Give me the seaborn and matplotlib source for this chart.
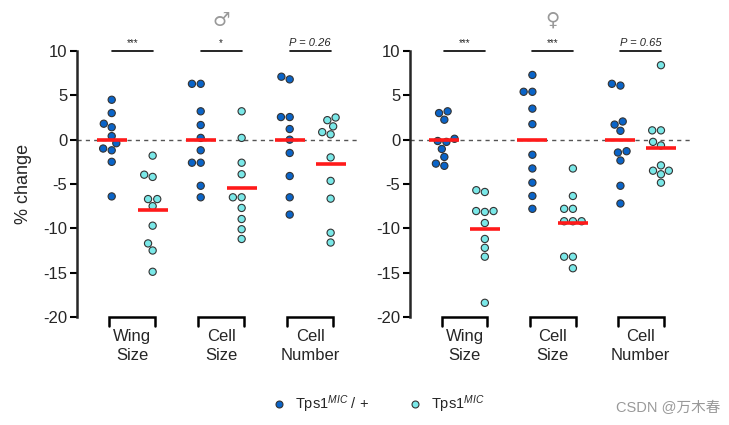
import numpy as np
import pandas as pd
import matplotlib
matplotlib.use("Agg")
import matplotlib.pyplot as plt
from matplotlib.lines import Line2D
import matplotlib.transforms as mtransforms
import seaborn as sns

sns.set_theme(style="ticks")
plt.rcParams['font.family'] = ['Liberation Sans', 'DejaVu Sans', 'Noto Sans CJK SC']
plt.rcParams['mathtext.fontset'] = 'custom'
plt.rcParams['mathtext.rm'] = 'Liberation Sans'
plt.rcParams['mathtext.it'] = 'Liberation Sans:italic'

# ---------------- data ----------------
measures = ["Wing\nSize", "Cell\nSize", "Cell\nNumber"]
genotypes = ["Tps1$^{MIC}$ / +", "Tps1$^{MIC}$"]
panels = ["♂", "♀"]

male_wing_het = [4.5, 3.0, 1.8, 1.4, 0.4, -0.4, -1.0, -1.2, -2.5, -6.4]
male_wing_mut = [-1.8, -4.2, -3.95, -6.7, -6.7, -7.5, -9.7, -11.7, -12.5, -14.9]
male_cellsize_het = [6.3, 6.3, 3.2, 1.65, 0.2, -1.2, -2.6, -2.6, -5.2, -6.5]
male_cellsize_mut = [3.2, 0.2, -2.6, -3.9, -6.5, -6.5, -7.7, -8.95, -10.1, -11.2]
male_cellnum_het = [6.8, 7.1, 2.55, 2.55, 1.2, 0.0, -1.5, -4.1, -6.5, -8.45]
male_cellnum_mut = [2.5, 2.2, 1.5, 0.6, 0.85, -2.0, -4.65, -6.65, -10.5, -11.6]

female_wing_het = [3.2, 3.0, 2.25, 0.1, -0.25, -0.15, -1.05, -1.95, -2.95, -2.7]
female_wing_mut = [-5.9, -5.7, -8.05, -8.15, -8.05, -9.4, -11.2, -12.2, -13.2, -18.4]
female_cellsize_het = [7.3, 5.4, 5.4, 3.5, 1.75, -1.7, -3.25, -4.85, -6.35, -7.8]
female_cellsize_mut = [-3.25, -6.35, -7.8, -7.8, -9.2, -9.2, -9.2, -13.2, -13.2, -14.5]
female_cellnum_het = [6.1, 6.3, 2.05, 1.7, 1.0, -1.3, -1.45, -2.35, -5.2, -7.2]
female_cellnum_mut = [8.4, 1.05, 1.05, -0.25, -0.65, -2.9, -3.5, -3.5, -3.9, -4.85]

male_sig = ["***", "*", "P = 0.26"]
female_sig = ["***", "***", "P = 0.65"]

panel_data = [
    [(male_wing_het, male_wing_mut), (male_cellsize_het, male_cellsize_mut), (male_cellnum_het, male_cellnum_mut)],
    [(female_wing_het, female_wing_mut), (female_cellsize_het, female_cellsize_mut), (female_cellnum_het, female_cellnum_mut)],
]
panel_sig = [male_sig, female_sig]

yticks = [10, 5, 0, -5, -10, -15, -20]

colors = ["#0a64c8", "#7ae8e8"]

# ---------------- figure ----------------
fig = plt.figure(figsize=(7.29, 4.25), dpi=100)
W, H = 729, 425
axes_px = [(77, 51, 283, 266), (410, 51, 280, 266)]
off = 0.23

for pi, (px, py, pw, ph) in enumerate(axes_px):
    ax = fig.add_axes([px / W, 1 - (py + ph) / H, pw / W, ph / H])
    rows = []
    for mi, (het, mut) in enumerate(panel_data[pi]):
        for v in het:
            rows.append((mi - off, genotypes[0], v))
        for v in mut:
            rows.append((mi + off, genotypes[1], v))
    df = pd.DataFrame(rows, columns=["xpos", "genotype", "value"])

    ax.axhline(0, color="#555555", ls=(0, (3, 3)), lw=1.0, zorder=0)
    sns.swarmplot(data=df, x="xpos", y="value", hue="genotype", native_scale=True,
                  hue_order=genotypes, palette=colors,
                  size=5.2, edgecolor="#333333", linewidth=0.8, ax=ax, legend=False,
                  zorder=3)

    means = df.groupby(["xpos"])["value"].mean()
    for xc, mv in means.items():
        ax.hlines(mv, xc - 0.17, xc + 0.17, color="#ff1a1a", lw=2.6, zorder=4)

    ax.set_ylim(-20, 10)
    ax.set_xlim(-off - 0.39, 2 + off + 0.33)
    ax.set_yticks(yticks)
    ax.set_yticklabels([str(t) for t in yticks])
    ax.tick_params(axis="y", labelsize=12, width=1.5, length=5, color="black", pad=2)
    ax.set_xticks([])
    ax.set_xlabel("")
    ax.set_ylabel("% change" if pi == 0 else "", fontsize=13, labelpad=8)
    for s in ["top", "right", "bottom"]:
        ax.spines[s].set_visible(False)
    ax.spines["left"].set_linewidth(1.8)
    ax.spines["left"].set_bounds(-20, 10)

    trans = mtransforms.blended_transform_factory(ax.transData, ax.transAxes)
    for mi, m in enumerate(measures):
        x0 = mi - off - 0.03
        x1 = mi + off + 0.03
        ax.plot([x0, x0, x1, x1], [-0.035, 0, 0, -0.035], transform=trans,
                color="black", lw=1.8, clip_on=False, solid_joinstyle="miter")
        ax.text(mi, -0.045, m, transform=trans, ha="center", va="top",
                fontsize=12, linespacing=1.3)
        ax.plot([mi - off, mi + off], [10, 10], color="black", lw=1.2, clip_on=False)
        sig = panel_sig[pi][mi]
        if sig.startswith("P"):
            ax.text(mi, 10.3, sig, ha="center", va="bottom", fontsize=8, style="italic")
        else:
            ax.text(mi, 10.3, sig, ha="center", va="bottom", fontsize=7)
    ttrans = mtransforms.blended_transform_factory(ax.transData, fig.transFigure)
    ax.text(1.0, 1 - 20 / H, panels[pi], transform=ttrans, ha="center",
            va="center", fontsize=14, color="#999999", family=["DejaVu Sans"])

handles = [Line2D([], [], marker="o", ls="", markersize=5, markerfacecolor=c,
                  markeredgecolor="#333333", markeredgewidth=0.8) for c in colors]
fig.legend(handles, genotypes, loc="center", bbox_to_anchor=(378 / W, 1 - 404 / H),
           ncol=2, frameon=False, fontsize=10.5, handlelength=1.0,
           handletextpad=0.6, columnspacing=2.7)

fig.text(720 / W, 1 - 408 / H, "CSDN @万木春", ha="right", va="center", fontsize=10.5,
         color="#999999", family=["Liberation Sans", "Noto Sans CJK SC"])

fig.savefig("out.png", dpi=100)
